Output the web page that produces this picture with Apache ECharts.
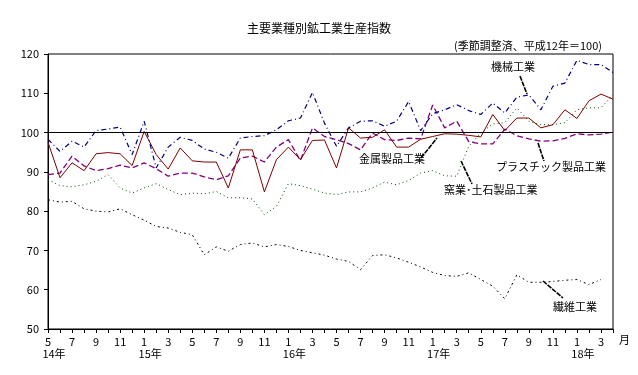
<!DOCTYPE html>
<html>
<head>
<meta charset="utf-8">
<script src="https://cdn.jsdelivr.net/npm/echarts@6/dist/echarts.min.js"></script>
<style>
  html, body { margin: 0; padding: 0; background: #fff; }
  #chart { width: 638px; height: 375px; }
</style>
</head>
<body>
<div id="chart"></div>
<script>
// 平成14年5月 ～ 平成18年4月
const categories = [
  '14/5','14/6','14/7','14/8','14/9','14/10','14/11','14/12',
  '15/1','15/2','15/3','15/4','15/5','15/6','15/7','15/8','15/9','15/10','15/11','15/12',
  '16/1','16/2','16/3','16/4','16/5','16/6','16/7','16/8','16/9','16/10','16/11','16/12',
  '17/1','17/2','17/3','17/4','17/5','17/6','17/7','17/8','17/9','17/10','17/11','17/12',
  '18/1','18/2','18/3','18/4'
];
const yTicks = [50, 60, 70, 80, 90, 100, 110, 120];

// 機械工業
const kikai = [98.3, 95.2, 97.8, 96.3, 100.5, 100.9, 101.4, 94.4, 102.9, 91.0, 96.3, 98.8,
  98.0, 95.8, 95.0, 93.5, 98.6, 99.0, 99.2, 100.7, 103.0, 103.7, 110.2, 102.4,
  96.5, 101.2, 102.9, 103.0, 101.6, 102.9, 107.9, 100.5, 104.8, 105.8, 107.1, 105.6,
  104.6, 107.5, 105.0, 109.0, 109.6, 105.8, 111.8, 112.6, 118.4, 117.3, 117.3, 115.3];
// 金属製品工業
const kinzoku = [97.5, 88.5, 92.3, 90.3, 94.6, 94.9, 94.6, 91.6, 100.3, 94.4, 90.7, 96.1,
  92.8, 92.5, 92.5, 85.9, 95.6, 95.6, 84.9, 93.1, 96.3, 93.1, 98.0, 98.1,
  91.0, 101.2, 98.6, 98.8, 100.7, 96.3, 96.3, 98.3, 99.0, 99.7, 99.6, 99.3,
  98.9, 104.6, 100.5, 103.7, 103.7, 101.2, 102.0, 105.8, 103.6, 108.1, 109.8, 108.5];
// プラスチック製品工業
const plastic = [89.3, 89.7, 94.0, 91.5, 90.3, 90.8, 91.7, 91.0, 92.3, 90.8, 88.9, 89.7,
  89.7, 88.7, 88.0, 89.0, 93.5, 94.0, 92.5, 96.3, 98.2, 92.9, 101.2, 99.0,
  98.2, 97.2, 95.6, 99.9, 98.2, 98.0, 98.6, 98.4, 107.0, 101.2, 102.9, 97.7,
  97.1, 97.1, 100.9, 99.2, 98.4, 97.8, 97.9, 98.5, 99.7, 99.4, 99.6, 100.1];
// 窯業・土石製品工業
const yogyo = [88.0, 86.5, 86.2, 86.7, 87.6, 89.3, 85.9, 84.6, 85.9, 87.0, 85.5, 84.2,
  84.6, 84.4, 85.0, 83.4, 83.4, 83.1, 79.1, 81.2, 87.0, 86.5, 85.6, 84.6,
  84.2, 84.9, 84.9, 85.9, 87.4, 86.7, 87.8, 89.7, 90.3, 89.0, 88.9, 96.5,
  99.9, 102.2, 102.5, 106.3, 102.9, 102.0, 102.0, 102.5, 105.8, 106.3, 106.3, 109.6];
// 繊維工業 (18年3月まで)
const seni = [82.9, 82.3, 82.5, 80.6, 80.0, 79.8, 80.6, 79.1, 77.7, 76.1, 75.7, 74.6,
  74.0, 68.9, 70.9, 69.8, 71.5, 71.9, 70.9, 71.5, 71.0, 70.0, 69.4, 68.8,
  67.8, 67.2, 65.1, 68.7, 68.9, 68.1, 67.0, 65.8, 64.4, 63.6, 63.4, 64.3,
  62.6, 60.9, 57.7, 63.8, 61.9, 61.9, 62.1, 62.4, 62.6, 61.3, 62.6];

const FONT = '"Noto Sans CJK JP", sans-serif';

function lineSeries(name, data, color, type, width) {
  return {
    name: name,
    type: 'line',
    data: data,
    symbol: 'none',
    lineStyle: {color: color, width: width || 1, type: type},
    itemStyle: {color: color}
  };
}

const series = [
  lineSeries('繊維工業', seni, '#000000', [2, 3, 1, 3]),
  lineSeries('窯業・土石製品工業', yogyo, '#004d00', [1, 3]),
  lineSeries('プラスチック製品工業', plastic, '#800080', [6, 3], 1.3),
  lineSeries('機械工業', kikai, '#000080', [5, 3, 1, 3], 1.2),
  lineSeries('金属製品工業', kinzoku, '#800000', 'solid')
];
// 100 の基準線
series[4].markLine = {
  silent: true,
  symbol: 'none',
  label: {show: false},
  lineStyle: {color: '#000', width: 1, type: 'solid'},
  data: [{yAxis: 100}]
};

const leader = {stroke: '#000', lineWidth: 1.6, lineDash: [5, 1]};
const labelStyle = {fontSize: 11, fontFamily: FONT, fill: '#000'};

const option = {
  animation: false,
  backgroundColor: '#fff',
  grid: {left: 48, right: 25, top: 54, height: 275, show: true, borderColor: '#000', borderWidth: 1},
  xAxis: {
    type: 'category',
    data: categories,
    boundaryGap: false,
    name: '月',
    nameLocation: 'end',
    nameGap: 6,
    nameTextStyle: {fontSize: 11, fontFamily: FONT, color: '#000', verticalAlign: 'top', padding: [5, 0, 0, 0]},
    axisLine: {lineStyle: {color: '#000', width: 1}},
    axisTick: {interval: 0, length: 4, lineStyle: {color: '#000'}},
    axisLabel: {
      interval: 1,
      margin: 7,
      fontSize: 11,
      fontFamily: FONT,
      color: '#000',
      lineHeight: 12,
      formatter: function (v, idx) {
        const p = v.split('/');
        if (idx === 0 || p[1] === '1') return p[1] + '\n{y|' + p[0] + '年}';
        return p[1];
      },
      rich: {y: {fontSize: 11, fontFamily: FONT, color: '#000', lineHeight: 12, padding: [0, 0, 0, 12]}}
    },
    splitLine: {show: false}
  },
  yAxis: {
    type: 'value',
    min: yTicks[0],
    max: yTicks[yTicks.length - 1],
    interval: 10,
    axisLine: {show: true, lineStyle: {color: '#000', width: 1}},
    axisTick: {show: true, length: 4, lineStyle: {color: '#000'}},
    axisLabel: {fontSize: 11, fontFamily: FONT, color: '#000', margin: 9},
    splitLine: {show: false}
  },
  series: series,
  graphic: [
    {type: 'text', left: 'center', top: 22, style: {text: '主要業種別鉱工業生産指数', fontSize: 12, fontFamily: FONT, fill: '#000'}},
    {type: 'text', right: 36, top: 40, style: {text: '(季節調整済、平成12年＝100)', fontSize: 11, fontFamily: FONT, fill: '#000'}},

    {type: 'text', x: 491, y: 61, style: Object.assign({text: '機械工業'}, labelStyle)},
    {type: 'line', shape: {x1: 520, y1: 76, x2: 527, y2: 94}, style: leader},

    {type: 'text', x: 359, y: 153, style: Object.assign({text: '金属製品工業'}, labelStyle)},
    {type: 'line', shape: {x1: 421, y1: 158, x2: 437, y2: 138}, style: leader},

    {type: 'text', x: 496, y: 161, style: Object.assign({text: 'プラスチック製品工業'}, labelStyle)},
    {type: 'line', shape: {x1: 538, y1: 143, x2: 544, y2: 161}, style: leader},

    {type: 'text', x: 444, y: 184, style: Object.assign({text: '窯業･土石製品工業'}, labelStyle)},
    {type: 'line', shape: {x1: 461, y1: 161, x2: 472, y2: 184}, style: leader},

    {type: 'text', x: 553, y: 301, style: Object.assign({text: '繊維工業'}, labelStyle)},
    {type: 'line', shape: {x1: 543, y1: 281, x2: 563, y2: 298}, style: leader}
  ]
};

const chart = echarts.init(document.getElementById('chart'));
chart.setOption(option);
</script>
</body>
</html>
